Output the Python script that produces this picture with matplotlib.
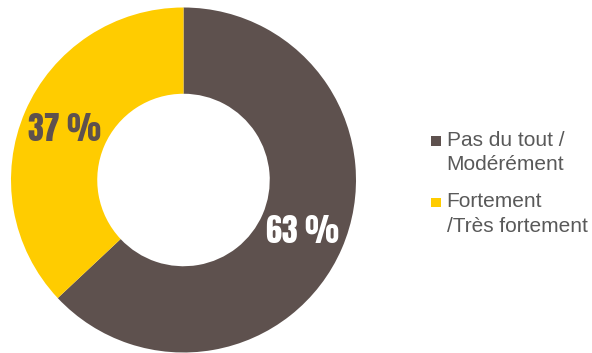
import matplotlib
matplotlib.use("Agg")
import matplotlib.pyplot as plt
from matplotlib.patches import Rectangle

# Survey answer shares (percent)
categories = ["Pas du tout /\nModérément", "Fortement\n/Très fortement"]
values = [63, 37]
colors = ["#5E514E", "#FFCC00"]
pct_colors = ["#FFFFFF", "#5E514E"]
legend_text_color = "#595959"

W, H, DPI = 592, 353, 100
fig = plt.figure(figsize=(W / DPI, H / DPI), dpi=DPI)
fig.patch.set_facecolor("white")

# Donut placement in pixels
cx, cy, r = 183.5, 180.0, 172.5
ax = fig.add_axes([(cx - r) / W, (H - cy - r) / H, 2 * r / W, 2 * r / H])

big_family = ["Anton", "Oswald", "DejaVu Sans"]

wedges, texts, autotexts = ax.pie(
    values,
    colors=colors,
    startangle=90,
    counterclock=False,
    radius=1.0,
    wedgeprops=dict(width=0.5, linewidth=0),
    autopct=lambda p: f"{p:.0f} %",
    pctdistance=0.75,
    textprops=dict(fontsize=23, family=big_family),
)
for t, c in zip(autotexts, pct_colors):
    t.set_color(c)
ax.set_xlim(-1, 1)
ax.set_ylim(-1, 1)
ax.set_aspect("equal")
ax.axis("off")
for w in wedges:
    w.set_clip_on(False)

# Legend: square swatches with two-line labels
sq_x, sq = 431, 9.5
first_baselines = [145.7, 207.3]
line_gap = 24.3
for label, col, base in zip(categories, colors, first_baselines):
    swatch = Rectangle((sq_x / W, (H - base) / H), sq / W, sq / H,
                       transform=fig.transFigure, facecolor=col, edgecolor="none")
    fig.patches.append(swatch)
    for i, line in enumerate(label.split("\n")):
        fig.text(446.5 / W, (H - base - i * line_gap) / H, line,
                 fontsize=15, color=legend_text_color,
                 family=["Liberation Sans", "DejaVu Sans"],
                 ha="left", va="baseline")

fig.savefig("out.png", dpi=DPI, facecolor="white")
